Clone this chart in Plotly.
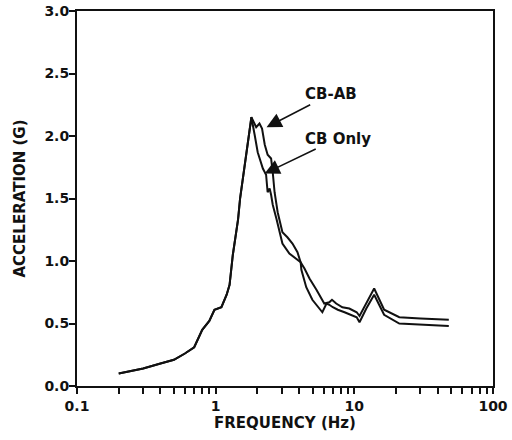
import plotly.graph_objects as go

# Shared rising branch (both curves coincide up to the peak)
freq_common = [0.2, 0.25, 0.3, 0.4, 0.5, 0.6, 0.7, 0.8, 0.9, 0.98, 1.1, 1.2, 1.26, 1.33, 1.45, 1.5, 1.6, 1.7, 1.81]
acc_common = [0.10, 0.12, 0.14, 0.18, 0.21, 0.26, 0.31, 0.45, 0.52, 0.61, 0.63, 0.73, 0.81, 1.05, 1.33, 1.50, 1.72, 1.95, 2.15]

# CB-AB branch after the peak
freq_cbab = [1.96, 2.07, 2.16, 2.26, 2.37, 2.51, 2.58, 2.66, 2.8, 2.97, 3.03, 3.29, 3.58, 3.89, 4.1,
             4.37, 4.75, 5.33, 5.79, 6.07, 6.6, 6.9, 7.4, 8.2, 9.2, 10.4, 10.9, 12.2, 13.9, 16.4,
             21.1, 30.0, 40.0, 48.0]
acc_cbab = [2.07, 2.10, 2.06, 1.93, 1.85, 1.82, 1.71, 1.55, 1.39, 1.26, 1.23, 1.19, 1.14, 1.07, 0.99,
            0.94, 0.86, 0.77, 0.70, 0.66, 0.67, 0.69, 0.66, 0.63, 0.62, 0.59, 0.56, 0.66, 0.78, 0.61,
            0.55, 0.54, 0.535, 0.53]

# CB Only branch after the peak
freq_cbonly = [1.91, 2.01, 2.19, 2.31, 2.37, 2.45, 2.51, 2.58, 2.74, 2.88, 3.03, 3.4, 3.83, 4.1,
               4.15, 4.5, 4.98, 5.6, 5.88, 6.3, 6.6, 7.0, 7.6, 8.5, 9.5, 10.4, 10.9, 12.2, 13.9,
               16.4, 21.1, 30.0, 48.0]
acc_cbonly = [2.01, 1.87, 1.74, 1.69, 1.55, 1.58, 1.53, 1.45, 1.34, 1.23, 1.14, 1.06, 1.02, 0.99,
              0.93, 0.79, 0.69, 0.62, 0.59, 0.66, 0.65, 0.63, 0.61, 0.59, 0.57, 0.55, 0.51, 0.62, 0.73,
              0.57, 0.50, 0.49, 0.48]

x_tickvals = [0.1, 0.2, 0.3, 0.4, 0.5, 0.6, 0.7, 0.8, 0.9,
              1, 2, 3, 4, 5, 6, 7, 8, 9,
              10, 20, 30, 40, 50, 60, 70, 80, 90, 100]
x_ticktext = ["<b>0.1</b>"] + [""] * 8 + ["<b>1</b>"] + [""] * 8 + ["<b>10</b>"] + [""] * 8 + ["<b>100</b>"]
y_tickvals = [0.0, 0.5, 1.0, 1.5, 2.0, 2.5, 3.0]
y_ticktext = ["<b>0.0</b>", "<b>0.5</b>", "<b>1.0</b>", "<b>1.5</b>", "<b>2.0</b>", "<b>2.5</b>", "<b>3.0</b>"]

FONT = "DejaVu Sans, Liberation Sans, Arial, sans-serif"
INK = "#111111"

fig = go.Figure()
fig.add_trace(go.Scatter(x=freq_common + freq_cbab, y=acc_common + acc_cbab, mode="lines",
                         line=dict(color=INK, width=2), name="CB-AB", showlegend=False))
fig.add_trace(go.Scatter(x=freq_common + freq_cbonly, y=acc_common + acc_cbonly, mode="lines",
                         line=dict(color=INK, width=2), name="CB Only", showlegend=False))

fig.add_annotation(x=0.367, y=2.07, xref="x", yref="y", text="<b>CB-AB</b>", showarrow=True,
                   ax=64, ay=-33, arrowhead=2, arrowsize=2, arrowwidth=1.5, arrowcolor=INK,
                   font=dict(family=FONT, size=15, color=INK))
fig.add_annotation(x=0.353, y=1.70, xref="x", yref="y", text="<b>CB Only</b>", showarrow=True,
                   ax=73, ay=-35, arrowhead=2, arrowsize=2, arrowwidth=1.5, arrowcolor=INK,
                   font=dict(family=FONT, size=15, color=INK))

fig.update_layout(
    width=512, height=440,
    margin=dict(l=77, r=19, t=11, b=54),
    paper_bgcolor="white", plot_bgcolor="white",
    font=dict(family=FONT, size=15, color=INK),
    xaxis=dict(type="log", range=[-1, 2], tickvals=x_tickvals, ticktext=x_ticktext,
               ticks="outside", ticklen=6, tickwidth=1.5, tickcolor=INK, automargin=False,
               showline=True, linecolor=INK, linewidth=2, mirror=True, showgrid=False, zeroline=False,
               tickfont=dict(size=14),
               title=dict(text="<b>FREQUENCY (Hz)</b>", standoff=4, font=dict(size=15))),
    yaxis=dict(range=[0, 3], tickvals=y_tickvals, ticktext=y_ticktext,
               ticks="outside", ticklen=6, tickwidth=1.5, tickcolor=INK, automargin=False,
               showline=True, linecolor=INK, linewidth=2, mirror=True, showgrid=False, zeroline=False,
               tickfont=dict(size=14), ticklabelstandoff=-3,
               title=dict(text="<b>ACCELERATION (G)</b>", standoff=15, font=dict(size=15))),
)

# remove the default 8px body margin so the 512x440 figure fills the window exactly
fig.write_html("out.html", config={"displayModeBar": False},
               post_script="document.body.style.margin='0';")
